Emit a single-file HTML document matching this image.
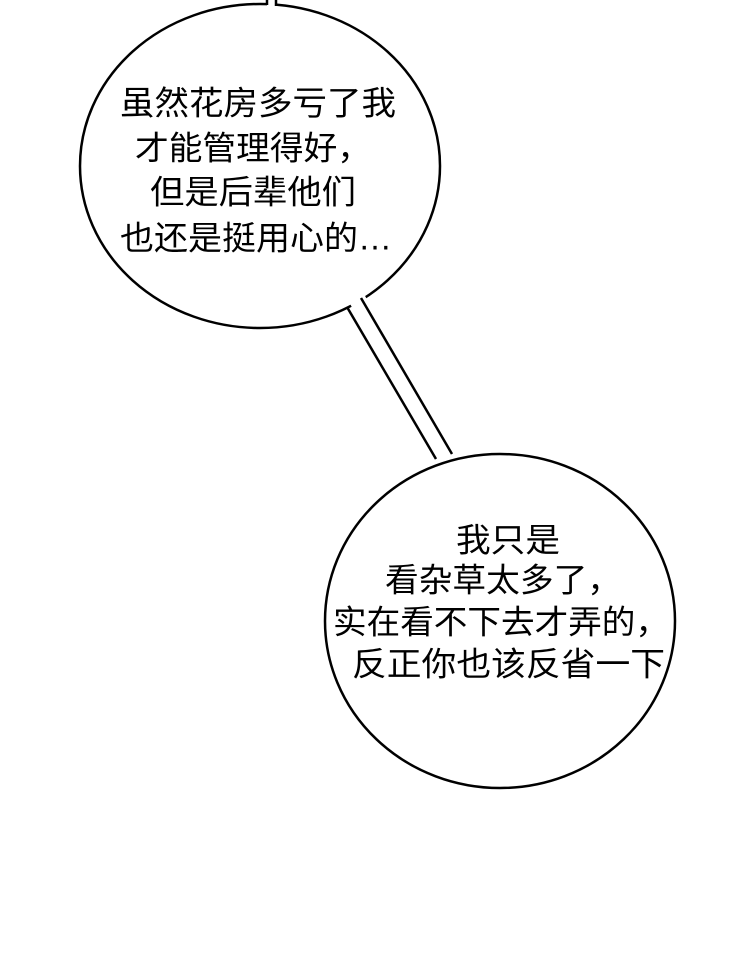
<!DOCTYPE html>
<html><head><meta charset="utf-8"><style>html,body{margin:0;padding:0;background:#fff}svg{display:block}</style></head>
<body>
<svg width="740" height="957" viewBox="0 0 740 957" xmlns="http://www.w3.org/2000/svg">
<rect width="740" height="957" fill="#fff"/>
<g fill="#fff" stroke="#000" stroke-width="2.5">
<ellipse cx="260" cy="166" rx="180" ry="162"/>
<ellipse cx="500" cy="621" rx="175" ry="167"/>
</g>
<polygon points="349,302 364,294 452,456 438,462" fill="#fff"/>
<rect x="267" y="0" width="9" height="8" fill="#fff"/>
<g stroke="#000" stroke-width="2.5" fill="none">
<line x1="347" y1="307" x2="436" y2="459"/>
<line x1="361" y1="298" x2="452" y2="454"/>
<line x1="267" y1="0" x2="267" y2="5"/>
<line x1="276" y1="0" x2="276" y2="6"/>
</g>
<g font-family="Liberation Sans, Noto Sans CJK SC, sans-serif" font-size="33" fill="#000" dominant-baseline="central">
<text x="120" y="103" textLength="276" lengthAdjust="spacingAndGlyphs">虽然花房多亏了我</text>
<text x="135" y="148" textLength="236" lengthAdjust="spacingAndGlyphs">才能管理得好，</text>
<text x="150" y="192" textLength="206" lengthAdjust="spacingAndGlyphs">但是后辈他们</text>
<text x="120" y="238" textLength="272" lengthAdjust="spacingAndGlyphs">也还是挺用心的…</text>
<text x="456" y="540" textLength="104" lengthAdjust="spacingAndGlyphs">我只是</text>
<text x="385" y="580" textLength="236" lengthAdjust="spacingAndGlyphs">看杂草太多了，</text>
<text x="333" y="622" textLength="336" lengthAdjust="spacingAndGlyphs">实在看不下去才弄的，</text>
<text x="352" y="664" textLength="313" lengthAdjust="spacingAndGlyphs">反正你也该反省一下</text>
</g>
</svg>
</body></html>
